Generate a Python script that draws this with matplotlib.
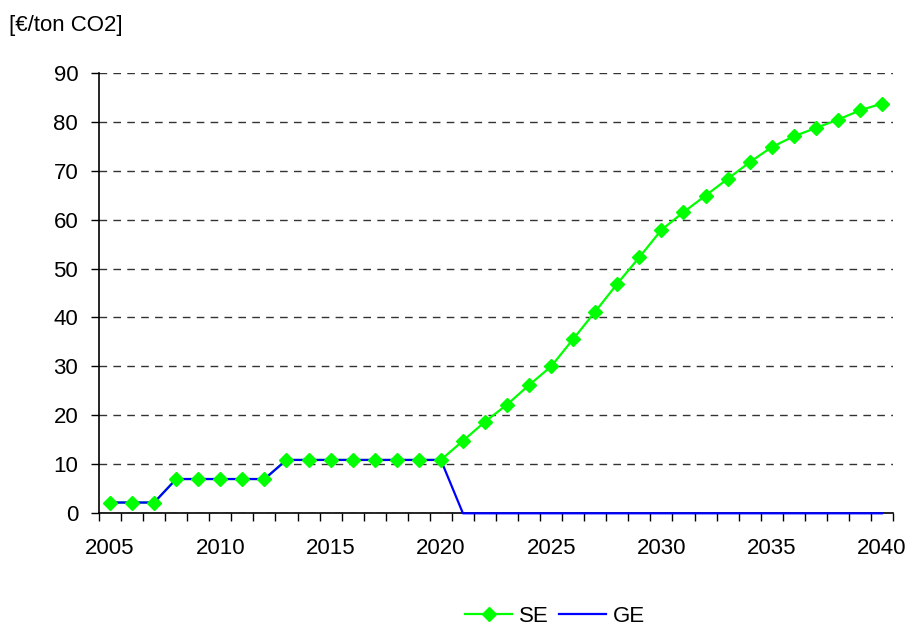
import matplotlib
matplotlib.use("Agg")
import matplotlib.pyplot as plt
from matplotlib.lines import Line2D
import numpy as np

years = list(range(2005, 2041))
se = [2.2, 2.2, 2.2, 7.0, 7.0, 7.0, 7.0, 7.0, 10.9, 10.9, 10.9, 10.9, 10.9, 10.9, 10.9, 10.9,
      14.8, 18.7, 22.2, 26.2, 30.0, 35.6, 41.2, 46.9, 52.3, 57.9, 61.5, 64.9, 68.3, 71.7,
      74.8, 77.0, 78.7, 80.4, 82.3, 83.7]
ge = [2.2, 2.2, 2.2, 7.0, 7.0, 7.0, 7.0, 7.0, 10.9, 10.9, 10.9, 10.9, 10.9, 10.9, 10.9, 10.9,
      0, 0, 0, 0, 0, 0, 0, 0, 0, 0, 0, 0, 0, 0, 0, 0, 0, 0, 0, 0]
yticks = list(range(0, 100, 10))
label_years = [2005, 2010, 2015, 2020, 2025, 2030, 2035, 2040]
unit_label = "[€/ton CO2]"

plt.rcParams['font.family'] = ['Liberation Sans', 'DejaVu Sans']
fs = 16

fig = plt.figure(figsize=(9.1, 6.26), dpi=100)
ax = fig.add_axes([99/910, 1-513.3/626, (893-99)/910, (513.3-72.7)/626])

x = np.arange(len(years))
green = '#00ff00'
blue = '#0000ff'
ax.plot(x, se, color=green, lw=1.6, zorder=3)
ax.plot(x, ge, color=blue, lw=1.6, zorder=4, clip_on=False)
ax.plot(x, se, color=green, lw=0, marker='D', markersize=7.5, zorder=5, clip_on=False)

ax.set_xlim(-0.5, len(years)-0.5)
ax.set_ylim(0, 90)
ax.set_yticks(yticks)
ax.set_yticklabels([str(v) for v in yticks], fontsize=fs)
ax.tick_params(axis='y', direction='out', length=6, width=1, pad=9)

# category labels at centers, ticks between categories
ax.set_xticks([years.index(y) for y in label_years])
ax.set_xticklabels([str(y) for y in label_years], fontsize=fs)
ax.tick_params(axis='x', which='major', length=0, pad=18)
ax.set_xticks(np.arange(-0.5, len(years)), minor=True)
ax.tick_params(axis='x', which='minor', direction='out', length=6, width=1)

ax.yaxis.grid(True, linestyle=(0, (5.5, 4.5)), color='#333333', lw=1)
ax.set_axisbelow(True)
for s in ['top', 'right']:
    ax.spines[s].set_visible(False)
ax.spines['left'].set_linewidth(1.2)
ax.spines['bottom'].set_linewidth(1.2)

fig.text(9/910, 1-25/626, unit_label, fontsize=fs, va='center', ha='left')

handles = [Line2D([], [], color=green, lw=1.6, marker='D', markersize=7.5),
           Line2D([], [], color=blue, lw=1.6)]
fig.legend(handles, ['SE', 'GE'], loc='center', bbox_to_anchor=(555/910, 1-616/626),
           ncol=2, frameon=False, fontsize=fs, handlelength=2.1, handletextpad=0.3,
           columnspacing=0.5)

fig.savefig('out.png', dpi=100)
